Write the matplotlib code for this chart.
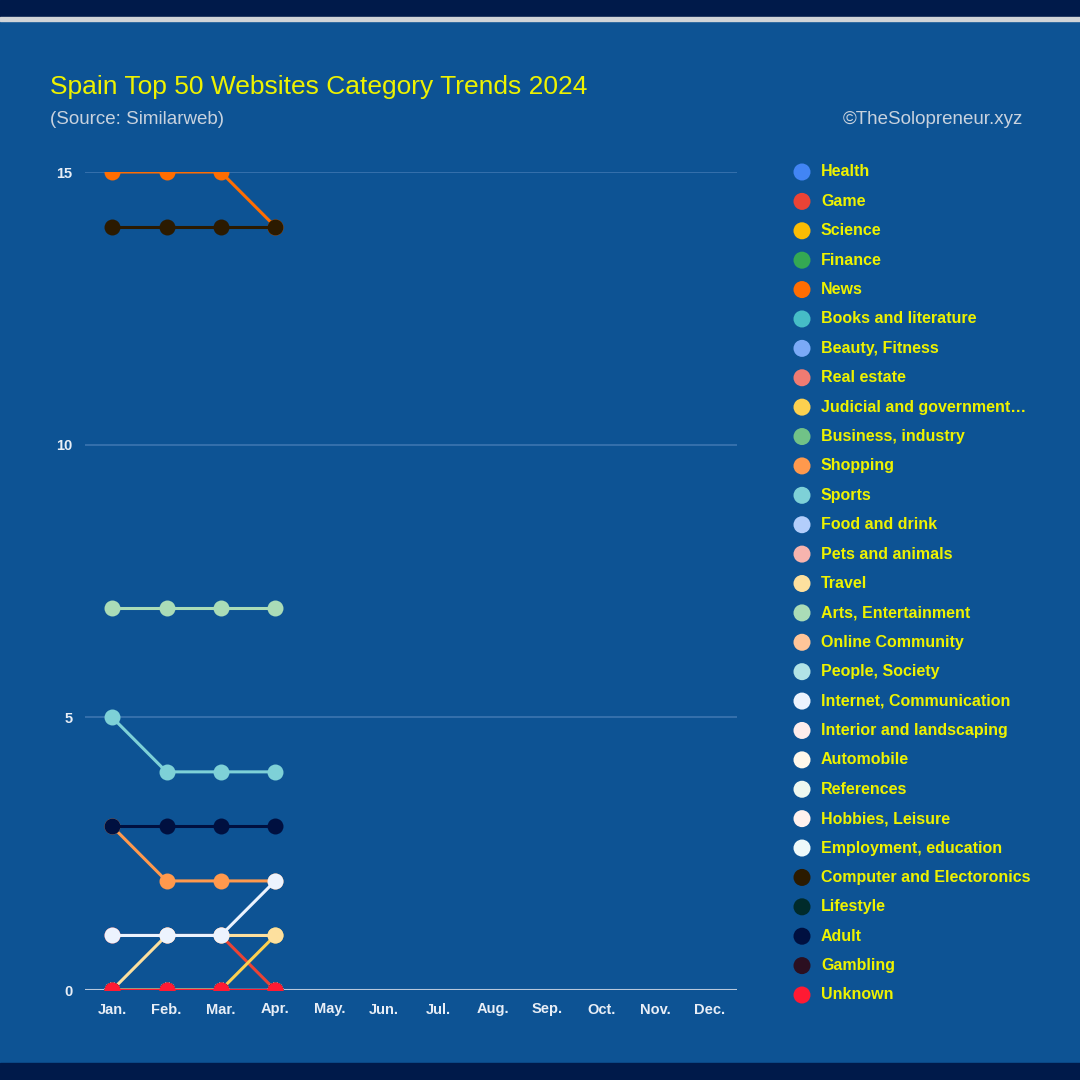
import matplotlib
matplotlib.use('Agg')
import matplotlib.pyplot as plt
from matplotlib.patches import Rectangle

# Data: ranking counts per category (Jan..Apr 2024)
months = ['Jan.', 'Feb.', 'Mar.', 'Apr.', 'May.', 'Jun.', 'Jul.', 'Aug.', 'Sep.', 'Oct.', 'Nov.', 'Dec.']

categories = ['Health', 'Game', 'Science', 'Finance', 'News', 'Books and literature',
              'Beauty, Fitness', 'Real estate', 'Judicial and government\u2026',
              'Business, industry', 'Shopping', 'Sports', 'Food and drink',
              'Pets and animals', 'Travel', 'Arts, Entertainment', 'Online Community',
              'People, Society', 'Internet, Communication', 'Interior and landscaping',
              'Automobile', 'References', 'Hobbies, Leisure', 'Employment, education',
              'Computer and Electoronics', 'Lifestyle', 'Adult', 'Gambling', 'Unknown']

colors = ['#4285f4', '#ea4335', '#fbbc04', '#34a853', '#ff6d01', '#46bdc6',
          '#7baaf7', '#f07b72', '#fcd04f', '#71c287', '#ff994d', '#7ed1d7',
          '#b3cefb', '#f7b4ae', '#fde09e', '#aadcb7', '#ffc599', '#b1e3e6',
          '#ecf3fe', '#fdeceb', '#fff8eb', '#eef8f0', '#fff1ee', '#eef9fa',
          '#2b1a00', '#002b2b', '#001040', '#2b0f20', '#ff1a33']

values = {
    'Health': [0, 0, 0, 0],
    'Game': [1, 1, 1, 0],
    'Science': [0, 0, 0, 0],
    'Finance': [0, 0, 0, 0],
    'News': [15, 15, 15, 14],
    'Books and literature': [0, 0, 0, 0],
    'Beauty, Fitness': [0, 0, 0, 0],
    'Real estate': [0, 0, 0, 0],
    'Judicial and government\u2026': [0, 0, 0, 1],
    'Business, industry': [0, 0, 0, 0],
    'Shopping': [3, 2, 2, 2],
    'Sports': [5, 4, 4, 4],
    'Food and drink': [0, 0, 0, 0],
    'Pets and animals': [0, 0, 0, 0],
    'Travel': [0, 1, 1, 1],
    'Arts, Entertainment': [7, 7, 7, 7],
    'Online Community': [0, 0, 0, 0],
    'People, Society': [0, 0, 0, 0],
    'Internet, Communication': [1, 1, 1, 2],
    'Interior and landscaping': [0, 0, 0, 0],
    'Automobile': [0, 0, 0, 0],
    'References': [0, 0, 0, 0],
    'Hobbies, Leisure': [0, 0, 0, 0],
    'Employment, education': [0, 0, 0, 0],
    'Computer and Electoronics': [14, 14, 14, 14],
    'Lifestyle': [0, 0, 0, 0],
    'Adult': [3, 3, 3, 3],
    'Gambling': [0, 0, 0, 0],
    'Unknown': [0, 0, 0, 0],
}

yticks = [0, 5, 10, 15]

BG = '#0d5394'
NAVY = '#001a4a'
YELLOW = '#eef200'

plt.rcParams['font.family'] = ['Liberation Sans', 'DejaVu Sans']

fig = plt.figure(figsize=(10.8, 10.8), dpi=100, facecolor=BG)

# top / bottom bands
fig.add_artist(Rectangle((0, 1 - 17 / 1080), 1, 17 / 1080, transform=fig.transFigure, color=NAVY, zorder=0))
fig.add_artist(Rectangle((0, 1 - 21 / 1080), 1, 4 / 1080, transform=fig.transFigure, color='#d0d4d8', zorder=0))
fig.add_artist(Rectangle((0, 0), 1, 17 / 1080, transform=fig.transFigure, color=NAVY, zorder=0))

# main axes: x 85..737 px, y 172..990 px
ax = fig.add_axes([85 / 1080, (1080 - 990) / 1080, 652 / 1080, 818 / 1080])
ax.set_facecolor(BG)
ax.set_xlim(-0.5, 11.5)
ax.set_ylim(0, 15)

for y in yticks[1:]:
    ax.axhline(y, color='#3d75b0', lw=1.2, zorder=1)
ax.axhline(0, color='#b8c8dc', lw=1.5, zorder=1)

x = list(range(4))
for cat, col in zip(categories, colors):
    ax.plot(x, values[cat], color=col, lw=2.2, marker='o', markersize=11.5,
            markeredgewidth=0, zorder=3)

ax.set_xticks(range(len(months)))
ax.set_xticklabels(months)
ax.set_yticks(yticks)
ax.tick_params(length=0, colors='#e8eef6', labelsize=10.5, pad=9)
for lbl in ax.get_xticklabels() + ax.get_yticklabels():
    lbl.set_fontweight('bold')
for s in ax.spines.values():
    s.set_visible(False)

# titles
fig.text(50 / 1080, 1 - 87 / 1080, 'Spain Top 50 Websites Category Trends 2024',
         color=YELLOW, fontsize=19, va='center', ha='left')
fig.text(50 / 1080, 1 - 119 / 1080, '(Source: Similarweb)',
         color='#c8d2de', fontsize=13.5, va='center', ha='left')
fig.text(1023 / 1080, 1 - 119 / 1080, '\u00a9TheSolopreneur.xyz',
         color='#c8d2de', fontsize=13.5, va='center', ha='right')

# legend
lax = fig.add_axes([790 / 1080, (1080 - 1010) / 1080, 280 / 1080, 853 / 1080])
lax.set_xlim(0, 280)
lax.set_ylim(1010, 157)
lax.axis('off')
for i, (cat, col) in enumerate(zip(categories, colors)):
    yy = 172 + i * (995 - 172) / (len(categories) - 1)
    lax.scatter([12], [yy], s=150, color=col, edgecolors='none')
    lax.text(31, yy, cat, color=YELLOW, fontsize=11.5, fontweight='bold',
             va='center', ha='left')

fig.savefig('out.png', dpi=100, facecolor=BG)
